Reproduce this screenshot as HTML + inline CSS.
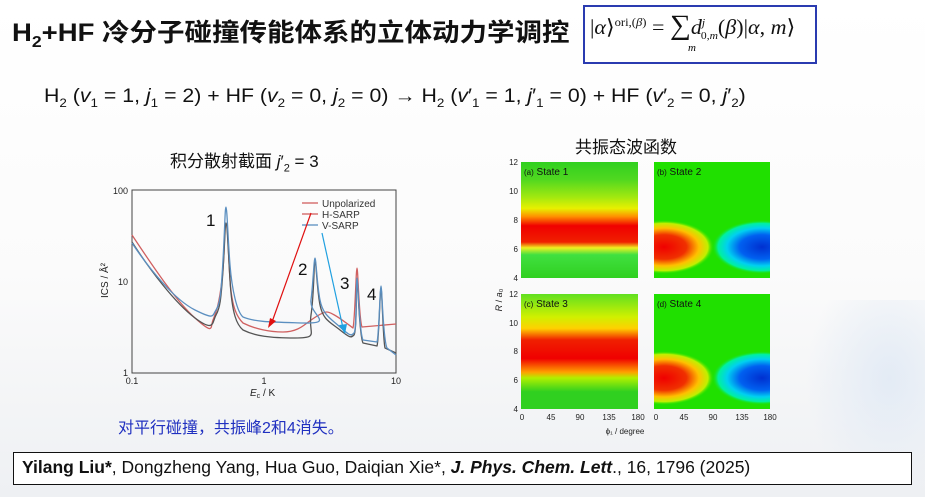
<!DOCTYPE html>
<html><head><meta charset="utf-8"><style>
body{margin:0;width:925px;height:497px;overflow:hidden;background:linear-gradient(#fff 0%,#fbfbfb 55%,#eef0f3 100%);font-family:"Liberation Sans","Noto Sans CJK SC",sans-serif;position:relative}
.a{position:absolute;white-space:nowrap}
</style></head><body>
<div class="a" style="right:0;top:300px;width:120px;height:197px;background:radial-gradient(ellipse at 70% 40%,#e3ebf5 0%,rgba(230,236,245,0) 70%)"></div>
<div class="a" style="left:12px;top:13px;font-size:25px;font-weight:bold;color:#111;transform:scaleX(1.1);transform-origin:left">H<sub style="font-size:16px">2</sub>+HF 冷分子碰撞传能体系的立体动力学调控</div>
<div class="a" style="left:583px;top:5px;width:230px;height:55px;border:2px solid #2a3bb0;background:#fff"></div>
<div class="a" style="left:590px;top:10px;font-family:'Liberation Serif',serif;font-size:21px;color:#111;transform:scaleX(1.05);transform-origin:left">|<i>α</i>⟩<sup style="font-size:12px">ori,(<i>β</i>)</sup> = <span style="font-size:28px">∑</span><i>d</i><sup style="font-size:11px"><i>j</i></sup><sub style="font-size:11px;margin-left:-4px">0,<i>m</i></sub>(<i>β</i>)|<i>α</i>, <i>m</i>⟩</div>
<div class="a" style="left:688px;top:42px;font-family:'Liberation Serif',serif;font-size:11px;font-style:italic">m</div>
<div class="a" style="left:44px;top:86px;font-size:19px;color:#111;transform:scaleX(1.12);transform-origin:left">H<sub style="font-size:12px">2</sub> (<i>v</i><sub style="font-size:12px">1</sub> = 1, <i>j</i><sub style="font-size:12px">1</sub> = 2) + HF (<i>v</i><sub style="font-size:12px">2</sub> = 0, <i>j</i><sub style="font-size:12px">2</sub> = 0) → H<sub style="font-size:12px">2</sub> (<i>v</i>′<sub style="font-size:12px">1</sub> = 1, <i>j</i>′<sub style="font-size:12px">1</sub> = 0) + HF (<i>v</i>′<sub style="font-size:12px">2</sub> = 0, <i>j</i>′<sub style="font-size:12px">2</sub>)</div>
<div class="a" style="left:170px;top:147px;font-size:17px;color:#111">积分散射截面 <i>j</i>′<sub style="font-size:11px">2</sub> = 3</div>
<div class="a" style="left:575px;top:133px;font-size:17px;color:#111">共振态波函数</div>

<svg class="a" style="left:0;top:0" width="925" height="497">
<g font-family="Liberation Sans" font-size="9" fill="#222">
<rect x="132" y="190" width="264" height="183" fill="none" stroke="#444" stroke-width="1"/>
<text x="132" y="384" text-anchor="middle">0.1</text><text x="264" y="384" text-anchor="middle">1</text><text x="396" y="384" text-anchor="middle">10</text>
<text x="128" y="194" text-anchor="end">100</text><text x="128" y="285" text-anchor="end">10</text><text x="128" y="376" text-anchor="end">1</text>
<text x="250" y="396" font-size="10"><tspan font-style="italic">E</tspan><tspan font-size="7" dy="2">c</tspan><tspan dy="-2"> / K</tspan></text>
<text transform="translate(108,298) rotate(-90)" font-size="10">ICS / Å²</text>
</g>
<g fill="none" stroke-width="1.3" stroke-linejoin="round">
<path stroke="#d06060" d="M132,235 C150,262 175,300 195,318 S210,327 213,320 S219,305 222,280 S224,225 226,225 S228,250 230,280 S238,318 243,323 C255,329 270,332 283,332 S303,326 307,323 S322,312 327,312 S345,322 353,328 C355,320 356,268 357,268 C358,268 359,320 362,327 L396,324"/>
<path stroke="#555" d="M132,242 C150,270 175,303 195,318 S212,322 216,315 S221,300 223,270 S225,223 226,223 S228,245 230,280 S237,325 243,330 C255,336 270,338 295,338 S308,334 311,315 S314,260 315,260 S317,290 320,305 S330,322 340,330 S351,338 354,335 S356,280 357,280 S359,335 363,343 L377,346 C379,340 380,288 381,288 C382,288 383,340 385,348 L396,353"/>
<path stroke="#5b8fc0" d="M132,243 C150,270 175,300 195,310 S212,316 216,310 S221,295 223,260 S225,207 226,207 S228,240 230,265 S237,312 243,317 C255,322 270,322 303,323 S309,315 311,300 S314,258 315,258 S317,285 320,300 S330,318 340,327 S351,336 354,333 S356,278 357,278 S359,332 363,340 L377,342 C379,336 380,286 381,286 C382,286 383,340 387,348 L396,355"/>
<line x1="302" y1="203" x2="318" y2="203" stroke="#d06060"/><line x1="302" y1="214" x2="318" y2="214" stroke="#d06060"/><line x1="302" y1="225" x2="318" y2="225" stroke="#5b8fc0"/>
<line x1="311" y1="213" x2="272" y2="322" stroke="#e01010" stroke-width="1.2"/>
<line x1="322" y1="233" x2="343" y2="328" stroke="#20a0e0" stroke-width="1.2"/>
</g>
<polygon points="268,328 270,318 276,321" fill="#e01010"/>
<polygon points="345,334 339,325 347,324" fill="#20a0e0"/>
<g font-family="Liberation Sans" fill="#333" font-size="10"><text x="322" y="207">Unpolarized</text><text x="322" y="218">H-SARP</text><text x="322" y="229">V-SARP</text></g>
<g font-family="Liberation Sans" fill="#111" font-size="17"><text x="206" y="226">1</text><text x="298" y="275">2</text><text x="340" y="289">3</text><text x="367" y="300">4</text></g>

<defs>
<linearGradient id="s1" x1="0" y1="0" x2="0" y2="1">
<stop offset="0" stop-color="#30d020"/><stop offset="0.15" stop-color="#50d820"/><stop offset="0.3" stop-color="#a0e810"/><stop offset="0.4" stop-color="#e8f000"/><stop offset="0.47" stop-color="#ff9000"/><stop offset="0.55" stop-color="#f00000"/><stop offset="0.69" stop-color="#f02000"/><stop offset="0.74" stop-color="#f0f020"/><stop offset="0.8" stop-color="#40e040"/><stop offset="1" stop-color="#30d020"/></linearGradient>
<linearGradient id="s3" x1="0" y1="0" x2="0" y2="1">
<stop offset="0" stop-color="#60e020"/><stop offset="0.2" stop-color="#d0f000"/><stop offset="0.3" stop-color="#ffd000"/><stop offset="0.4" stop-color="#f02000"/><stop offset="0.56" stop-color="#f00000"/><stop offset="0.68" stop-color="#ffa000"/><stop offset="0.73" stop-color="#b0f000"/><stop offset="0.85" stop-color="#30d020"/><stop offset="1" stop-color="#30d020"/></linearGradient>
<radialGradient id="rr" cx="0.5" cy="0.5" r="0.5"><stop offset="0" stop-color="#f00000"/><stop offset="0.45" stop-color="#f03000"/><stop offset="0.7" stop-color="#ffc000"/><stop offset="0.88" stop-color="#c0f000"/><stop offset="1" stop-color="#20e000" stop-opacity="0"/></radialGradient>
<radialGradient id="bb" cx="0.5" cy="0.5" r="0.5"><stop offset="0" stop-color="#0030d0"/><stop offset="0.45" stop-color="#0060f0"/><stop offset="0.7" stop-color="#00d0f0"/><stop offset="0.88" stop-color="#00f0a0"/><stop offset="1" stop-color="#20e000" stop-opacity="0"/></radialGradient>
</defs>
<rect x="521" y="162" width="117" height="116" fill="url(#s1)"/>
<rect x="521" y="294" width="117" height="115" fill="url(#s3)"/>
<rect x="654" y="162" width="116" height="116" fill="#20e000"/>
<rect x="654" y="294" width="116" height="115" fill="#20e000"/>
<svg x="654" y="162" width="116" height="116"><ellipse cx="10" cy="85" rx="50" ry="27" fill="url(#rr)"/><ellipse cx="108" cy="85" rx="50" ry="27" fill="url(#bb)"/></svg>
<svg x="654" y="294" width="116" height="115"><ellipse cx="10" cy="84" rx="50" ry="27" fill="url(#rr)"/><ellipse cx="108" cy="84" rx="50" ry="27" fill="url(#bb)"/></svg>
<g font-family="Liberation Sans" font-size="10" fill="#111">
<text x="524" y="175"><tspan font-size="8">(a)</tspan> State 1</text><text x="657" y="175"><tspan font-size="8">(b)</tspan> State 2</text>
<text x="524" y="307"><tspan font-size="8">(c)</tspan> State 3</text><text x="657" y="307"><tspan font-size="8">(d)</tspan> State 4</text>
</g>
<g font-family="Liberation Sans" font-size="8" fill="#222" text-anchor="end">
<text x="518" y="165">12</text><text x="518" y="194">10</text><text x="518" y="223">8</text><text x="518" y="252">6</text><text x="518" y="281">4</text>
<text x="518" y="297">12</text><text x="518" y="326">10</text><text x="518" y="354">8</text><text x="518" y="383">6</text><text x="518" y="412">4</text>
</g>
<g font-family="Liberation Sans" font-size="8" fill="#222" text-anchor="middle">
<text x="522" y="420">0</text><text x="551" y="420">45</text><text x="580" y="420">90</text><text x="609" y="420">135</text><text x="638" y="420">180</text>
<text x="656" y="420">0</text><text x="684" y="420">45</text><text x="713" y="420">90</text><text x="742" y="420">135</text><text x="770" y="420">180</text>
<text x="625" y="434">ϕ₁ / degree</text>
</g>
<text transform="translate(502,300) rotate(-90)" font-family="Liberation Sans" font-size="9" fill="#222" text-anchor="middle"><tspan font-style="italic">R</tspan> / <tspan font-style="italic">a</tspan>₀</text>
</svg>

<div class="a" style="left:118px;top:414px;font-size:16px;color:#2030c0">对平行碰撞，共振峰2和4消失。</div>
<div class="a" style="left:13px;top:452px;width:897px;height:31px;border:1.5px solid #111;background:#fff"></div>
<div class="a" style="left:22px;top:457px;font-size:17.5px;color:#111"><b>Yilang Liu*</b>, Dongzheng Yang, Hua Guo, Daiqian Xie*, <b><i>J. Phys. Chem. Lett</i></b>., 16, 1796 (2025)</div>
</body></html>
